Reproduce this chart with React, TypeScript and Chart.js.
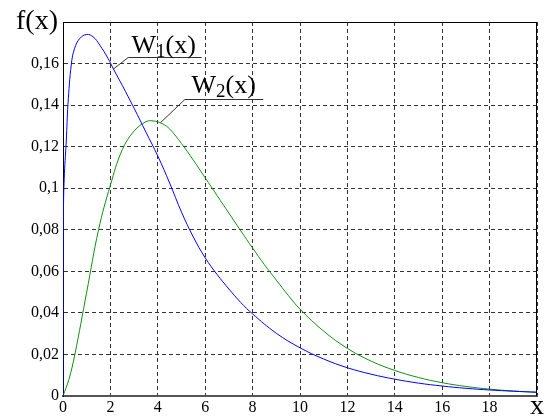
import React, { useEffect, useRef } from "react";
import { Chart, registerables } from "chart.js";

Chart.register(...registerables);

// ---- data ----
const w1X = [0, 0.02, 0.06, 0.14, 0.21, 0.355, 0.49, 0.71, 1, 1.27, 1.55, 1.9, 2.15, 2.5, 3, 3.5, 4, 4.5, 5, 5.5, 6, 6.5, 7, 7.5, 8, 9, 10, 11, 12, 13, 14, 15, 16, 17, 18, 19, 20];
const w1Y = [0, 0.09, 0.107, 0.1232, 0.1404, 0.16, 0.1673, 0.1721, 0.174, 0.1729, 0.1689, 0.1625, 0.1569, 0.1495, 0.1385, 0.127, 0.1155, 0.1025, 0.0885, 0.0765, 0.0665, 0.0585, 0.0515, 0.045, 0.0395, 0.0302, 0.0232, 0.0178, 0.0136, 0.0105, 0.0081, 0.0062, 0.0048, 0.0037, 0.0029, 0.0023, 0.0018];

const w2X = [0, 0.25, 0.5, 1, 1.5, 2, 2.5, 3, 3.5, 3.8, 4.2, 4.5, 5, 5.5, 6, 6.5, 7, 7.5, 8, 8.5, 9, 9.5, 10, 11, 12, 13, 14, 15, 16, 17, 18, 19, 20];
const w2Y = [0, 0.008, 0.02, 0.05, 0.08, 0.1015, 0.1185, 0.1275, 0.132, 0.1324, 0.131, 0.1285, 0.1215, 0.1135, 0.105, 0.0965, 0.088, 0.0795, 0.0712, 0.0632, 0.0558, 0.0485, 0.0418, 0.0312, 0.0229, 0.0168, 0.0123, 0.0089, 0.0064, 0.0046, 0.0033, 0.0024, 0.0018];

const xMin = 0;
const xMax = 20;
const xStep = 2;
const yMin = 0;
const yMax = 0.18;
const yStep = 0.02;
const xAxisTitle = "x";
const yAxisTitle = "f(x)";

// curve labels (name, subscript) and their anchors in data units
const labelNames = ["W", "W"];
const labelSubs = ["1", "2"];
const leaderFromX = [2.11, 4.11];
const leaderFromY = [0.1572, 0.1315];
const kneeX = [2.75, 5.14];
const kneeY = [0.1633, 0.1429];
const underlineEndX = [5.85, 8.45];
const textX = [2.89, 5.42];
const textY = [0.1649, 0.146];

const FONT = '"Liberation Serif", "Times New Roman", serif';

const fmtY = (v: number) => {
  if (Math.abs(v) < 1e-9) return "0";
  return parseFloat(v.toFixed(2)).toString().replace(".", ",");
};

const annotPlugin = {
  id: "annot",
  afterDatasetsDraw(chart: any) {
    const { ctx, scales } = chart;
    const xs = scales.x;
    const ys = scales.y;
    ctx.save();
    for (let i = 0; i < labelNames.length; i++) {
      const x0 = xs.getPixelForValue(leaderFromX[i]);
      const y0 = ys.getPixelForValue(leaderFromY[i]);
      const x1 = xs.getPixelForValue(kneeX[i]);
      const y1 = ys.getPixelForValue(kneeY[i]);
      const x2 = xs.getPixelForValue(underlineEndX[i]);
      ctx.strokeStyle = "#333";
      ctx.lineWidth = 1;
      ctx.beginPath();
      ctx.moveTo(x0, y0);
      ctx.lineTo(x1, Math.round(y1) + 0.5);
      ctx.lineTo(x2, Math.round(y1) + 0.5);
      ctx.stroke();

      const tx = xs.getPixelForValue(textX[i]);
      const ty = ys.getPixelForValue(textY[i]);
      ctx.fillStyle = "#000";
      ctx.textBaseline = "alphabetic";
      ctx.textAlign = "left";
      ctx.font = `26px ${FONT}`;
      ctx.fillText(labelNames[i], tx, ty);
      let w = ctx.measureText(labelNames[i]).width;
      ctx.font = `19px ${FONT}`;
      ctx.fillText(labelSubs[i], tx + w, ty + 4);
      w += ctx.measureText(labelSubs[i]).width;
      ctx.font = `26px ${FONT}`;
      ctx.fillText("(x)", tx + w, ty);
    }
    ctx.restore();
  },
  afterDraw(chart: any) {
    const { ctx, chartArea, scales } = chart;
    ctx.save();
    ctx.strokeStyle = "#000";
    ctx.lineWidth = 1;
    ctx.beginPath();
    ctx.moveTo(Math.round(chartArea.left) + 0.5, Math.round(chartArea.top) + 0.5);
    ctx.lineTo(Math.round(chartArea.right) - 0.5, Math.round(chartArea.top) + 0.5);
    ctx.lineTo(Math.round(chartArea.right) - 0.5, Math.round(chartArea.bottom));
    ctx.stroke();

    ctx.fillStyle = "#000";
    ctx.font = `28px ${FONT}`;
    ctx.textBaseline = "alphabetic";
    ctx.textAlign = "right";
    ctx.fillText(yAxisTitle, chartArea.left - 5, scales.y.getPixelForValue(yMax) + 7);
    ctx.textAlign = "center";
    ctx.fillText(xAxisTitle, scales.x.getPixelForValue(xMax), chartArea.bottom + 18);
    ctx.restore();
  },
};

export default function App() {
  const ref = useRef<HTMLCanvasElement | null>(null);
  useEffect(() => {
    if (!ref.current) return;
    const chart = new Chart(ref.current, {
      type: "line",
      data: {
        datasets: [
          {
            label: "W1(x)",
            data: w1X.map((x, i) => ({ x, y: w1Y[i] })),
            borderColor: "#0000ff",
            borderWidth: 1,
            pointRadius: 0,
            fill: false,
            tension: 0.4,
          },
          {
            label: "W2(x)",
            data: w2X.map((x, i) => ({ x, y: w2Y[i] })),
            borderColor: "#109010",
            borderWidth: 1,
            pointRadius: 0,
            fill: false,
            tension: 0.4,
          },
        ],
      },
      options: {
        animation: false,
        responsive: false,
        devicePixelRatio: 1,
        layout: { padding: { top: 22, right: 7, left: 0, bottom: 0 } },
        plugins: { legend: { display: false }, tooltip: { enabled: false } },
        scales: {
          x: {
            type: "linear",
            min: xMin,
            max: xMax,
            afterFit: (s: any) => {
              s.height = 20;
            },
            ticks: {
              stepSize: xStep,
              padding: 2,
              color: "#000",
              maxRotation: 0,
              font: { family: FONT, size: 16 },
              callback: (v: any) => (Math.abs(v - xMax) < 1e-9 ? "" : String(v)),
            },
            grid: { color: "#333", lineWidth: 1, drawTicks: false },
            border: { display: true, color: "#555", width: 2, dash: [4, 3] },
          },
          y: {
            type: "linear",
            min: yMin,
            max: yMax,
            afterFit: (s: any) => {
              s.width = 63;
            },
            ticks: {
              stepSize: yStep,
              padding: 4,
              color: "#000",
              font: { family: FONT, size: 16 },
              callback: (v: any) => (Math.abs(v - yMax) < 1e-9 ? "" : fmtY(v)),
            },
            grid: { color: "#333", lineWidth: 1, drawTicks: false },
            border: { display: true, color: "#000", width: 1, dash: [4, 3] },
          },
        },
      } as any,
      plugins: [annotPlugin],
    });
    return () => chart.destroy();
  }, []);
  return (
    <div style={{ position: "absolute", left: 0, top: 0, width: 544, height: 416 }}>
      <canvas ref={ref} width={544} height={416} style={{ display: "block" }} />
    </div>
  );
}
